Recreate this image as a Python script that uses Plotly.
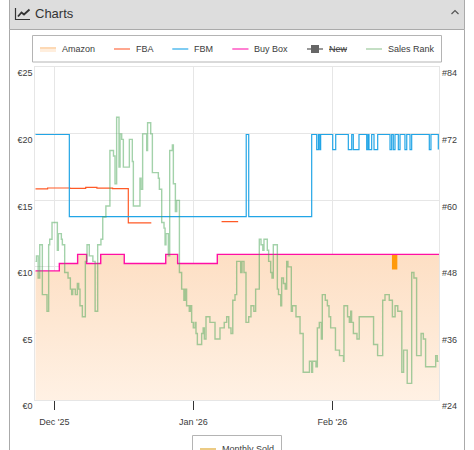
import pandas as pd
import plotly.graph_objects as go

W, H = 474, 450
START = pd.Timestamp("2025-12-01")

tick_days = [0, 31, 62]
tick_labels = ["Dec '25", "Jan '26", "Feb '26"]
price_ticks = [0, 5, 10, 15, 20, 25]
rank_ticks = [24, 36, 48, 60, 72, 84]

# Each series is a step line: the value holds from its day until the next one.
buybox_days = [-4.24, 1.12, 5.2, 7.2, 10.35, 15.6, 24.85, 27.5, 36.35, 85.86]
buybox_vals = [9.7, 10.26, 10.94, 10.26, 10.94, 10.26, 10.94, 10.26, 10.94, 10.94]
amazon_vals = list(buybox_vals)

fba_days = [-4.24, -1.5, 3.5, 7.0, 9.5, 13.0, 16.5, 21.5, 21.6, 37.3, 41.0]
fba_vals = [15.87, 15.93, 15.9, 15.98, 15.92, 15.88, 13.31, 13.35, None, 13.41, 13.41]

fbm_days = [-4.24, 3.35, 42.8, 43.36, 57.4, 58.52, 58.9, 59.19, 59.4, 62.09, 62.76,
            65.57, 66.33, 66.68, 67.95, 69.67, 69.96, 70.18, 70.78, 71.3, 72.12,
            74.87, 75.24, 75.6, 75.98, 76.72, 77.1, 78.2, 78.6, 79.33, 79.7,
            83.63, 84.0, 85.64]
fbm_vals = [19.95, 13.78, 19.95, 13.78, 19.95, 18.82, 19.95, 18.82, 19.95, 18.82, 19.95,
            18.82, 19.95, 18.82, 19.95, 18.82, 19.95, 18.82, 19.95, 18.82, 19.95,
            18.82, 19.95, 18.82, 19.95, 18.82, 19.95, 18.82, 19.95, 18.82, 19.95,
            18.82, 19.95, 18.82]

rank_days = [-4.24, -4.0, -3.6, -3.25, -2.67, -1.63, -1.26, -1.03, -0.51, 0.68, 0.9,
             1.57, 1.79, 2.31, 3.06, 3.58, 3.87, 4.1, 4.69, 5.14, 5.44, 5.73, 6.25,
             6.92, 7.3, 7.8, 8.6, 9.1, 9.67, 10.4, 10.8, 11.5, 12.4, 13.2, 13.54,
             13.9, 14.43, 14.66, 15.03, 15.4, 16.74, 17.4, 17.63, 19.1, 19.35, 19.7,
             20.6, 20.8, 21.5, 21.87, 23.2, 23.43, 23.95, 24.47, 24.7, 24.9, 25.44,
             25.73, 26.33, 26.55, 27.0, 27.3, 27.9, 28.4, 28.9, 29.2, 29.5, 30.1,
             30.4, 30.63, 31.0, 31.4, 31.6, 31.9, 32.86, 33.2, 33.46, 33.83, 34.7,
             35.84, 36.95, 37.9, 38.44, 38.9, 39.4, 39.8, 40.3, 40.67, 41.56, 41.86,
             42.3, 42.75, 43.35, 43.86, 44.5, 44.9, 45.72, 46.1, 46.5, 46.76, 47.5,
             47.8, 48.25, 48.55, 48.84, 49.74, 50.0, 50.5, 50.7, 51.1, 51.5, 51.82,
             52.1, 52.86, 53.1, 53.9, 54.8, 55.5, 56.9, 57.4, 57.6, 58.36, 58.66,
             59.1, 59.55, 59.77, 60.44, 60.9, 61.26, 61.63, 62.7, 63.6, 64.5, 64.6,
             65.4, 65.8, 66.1, 66.3, 66.7, 67.5, 68.0, 71.2, 72.1, 73.23, 73.75,
             74.7, 75.4, 76.0, 76.6, 77.5, 77.9, 78.7, 79.7, 80.2, 80.8, 81.8, 82.3,
             82.8, 85.05, 85.4, 85.7]
rank_vals = [49, 50, 46, 52, 43, 40, 52, 53, 56, 51, 54,
             53, 52, 47, 46, 44, 43, 44, 43, 45, 44, 41, 39,
             49, 52, 50, 49, 40, 52, 53, 57, 59, 69, 68, 63,
             75, 66, 72, 71, 66, 71, 67, 59, 64, 62, 72,
             69, 74, 72, 65, 64, 62, 56, 55, 52, 54, 50,
             69, 70, 63, 58, 60, 47, 44, 42, 44, 41, 40,
             41, 38, 37, 38, 36, 34, 36, 37, 35, 39, 38,
             35, 37, 38, 39, 37, 36, 42, 43, 49, 47, 49,
             47, 38, 39, 41, 40, 44, 53, 52, 51, 53, 51,
             49, 47, 46, 52, 44, 43, 41, 46, 45, 44, 49,
             48, 40, 41, 39, 36, 29, 31, 29, 31, 30, 37,
             38, 35, 43, 42, 41, 39, 37, 33, 32, 31, 41,
             39, 38, 40, 38, 36, 35, 39, 34, 32, 42, 43,
             42, 39, 41, 40, 29, 33, 27, 47, 46, 32, 36, 35,
             30, 32, 31, 31]

sold_days = [75.9, 75.9]
sold_vals = [9.8, 10.9]

GRID = "#e6e6e6"
TEXT = "#3c3c3c"
BORDER = "#b4b4b4"


def dates(days):
    return [START + pd.to_timedelta(d, unit="D") for d in days]


def px(x):
    return x / W


def py(y):
    return 1 - y / H


def path(points, close=False):
    body = " L".join(f"{px(x):.5f},{py(y):.5f}" for x, y in points)
    return "M" + body + (" Z" if close else "")


def frame_shape(**kw):
    return dict(xref="paper", yref="paper", layer="above", **kw)


fig = go.Figure()
fig.add_trace(go.Scatter(
    x=dates(buybox_days), y=amazon_vals, name="Amazon", mode="lines",
    line=dict(shape="hv", width=0), fill="tozeroy",
    fillgradient=dict(type="vertical",
                      colorscale=[[0, "#fff1e4"], [1, "#fddfc4"]]),
))
fig.add_trace(go.Scatter(
    x=dates(rank_days), y=rank_vals, name="Sales Rank", mode="lines", yaxis="y2",
    line=dict(shape="hv", width=1.4, color="rgba(72,165,85,0.5)"),
))
fig.add_trace(go.Scatter(
    x=dates(fba_days), y=fba_vals, name="FBA", mode="lines", connectgaps=False,
    line=dict(shape="hv", width=1.2, color="#ff5a26"),
))
fig.add_trace(go.Scatter(
    x=dates(fbm_days), y=fbm_vals, name="FBM", mode="lines",
    line=dict(shape="hv", width=1.2, color="#22a5e6"),
))
fig.add_trace(go.Scatter(
    x=dates(buybox_days), y=buybox_vals, name="Buy Box", mode="lines",
    line=dict(shape="hv", width=1.4, color="#ff0fa5"),
))
fig.add_trace(go.Scatter(
    x=dates(sold_days), y=sold_vals, name="Monthly Sold", mode="lines",
    line=dict(width=5.4, color="#ff9a0a"),
))

shapes = [
    # Panel header and outline
    frame_shape(type="rect", x0=px(9.5), x1=px(464.5), y0=py(29.5), y1=py(-2),
                fillcolor="#dddddd", line=dict(color="#aaaaaa", width=1)),
    frame_shape(type="line", x0=px(9.5), x1=px(9.5), y0=py(29.5), y1=py(451),
                line=dict(color="#aaaaaa", width=1)),
    frame_shape(type="line", x0=px(464.5), x1=px(464.5), y0=py(29.5), y1=py(451),
                line=dict(color="#aaaaaa", width=1)),
    # Header icon and collapse chevron
    frame_shape(type="path", path=path([(15.5, 8), (15.5, 19.5), (30, 19.5)]),
                line=dict(color="#333333", width=1.2)),
    frame_shape(type="path", path=path([(18, 16.5), (21.5, 12.5), (24, 14.5), (29.5, 9.5)]),
                line=dict(color="#333333", width=1.8)),
    frame_shape(type="path", path=path([(451.5, 14), (455, 10.5), (458.5, 14)]),
                line=dict(color="#555555", width=1.2)),
    # Legend frames
    frame_shape(type="rect", x0=px(32.5), x1=px(441.5), y0=py(62), y1=py(35.5),
                line=dict(color=BORDER, width=1)),
    frame_shape(type="rect", x0=px(192.5), x1=px(281.5), y0=py(452), y1=py(435.5),
                line=dict(color=BORDER, width=1)),
    # Legend swatches
    frame_shape(type="rect", x0=px(40), x1=px(56), y0=py(49), y1=py(47),
                fillcolor="#fdd9b5", line=dict(width=0)),
    frame_shape(type="rect", x0=px(40), x1=px(56), y0=py(52), y1=py(49),
                fillcolor="#ffeedd", line=dict(width=0)),
    frame_shape(type="line", x0=px(114), x1=px(130), y0=py(49), y1=py(49),
                line=dict(color="#ffa78f", width=2)),
    frame_shape(type="line", x0=px(172.3), x1=px(188.3), y0=py(49), y1=py(49),
                line=dict(color="#7fccf2", width=2)),
    frame_shape(type="line", x0=px(232.3), x1=px(248.5), y0=py(49), y1=py(49),
                line=dict(color="#ff80d2", width=2)),
    frame_shape(type="line", x0=px(307), x1=px(323), y0=py(49), y1=py(49),
                line=dict(color="#999999", width=2)),
    frame_shape(type="rect", x0=px(311), x1=px(319), y0=py(53), y1=py(45),
                fillcolor="#666666", line=dict(width=0)),
    frame_shape(type="line", x0=px(366), x1=px(382), y0=py(49), y1=py(49),
                line=dict(color="#c4dfc4", width=2)),
    frame_shape(type="rect", x0=px(200), x1=px(216), y0=py(450), y1=py(448),
                fillcolor="#eccb84", line=dict(width=0)),
]


def label(x, y, text, size=9, color=TEXT):
    return dict(x=px(x), y=py(y), xref="paper", yref="paper", text=text, showarrow=False,
                xanchor="left", yanchor="middle", align="left",
                font=dict(size=size, color=color), borderpad=0)


annotations = [
    label(34, 13.5, "Charts", size=13, color="#333333"),
    label(60.5, 49, "Amazon"),
    label(134.5, 49, "FBA"),
    label(193.2, 49, "FBM"),
    label(253.2, 49, "Buy Box"),
    label(327.5, 49, "<s>New</s>"),
    label(386.8, 49, "Sales Rank"),
    label(220.5, 449, "Monthly Sold"),
]

fig.update_layout(
    width=W, height=H, autosize=False, showlegend=False,
    margin=dict(l=0, r=0, t=0, b=0, pad=0, autoexpand=False),
    paper_bgcolor="white", plot_bgcolor="white",
    font=dict(family="Liberation Sans, Arial, sans-serif", size=9, color=TEXT),
    shapes=shapes, annotations=annotations,
    xaxis=dict(
        domain=[px(35.3), px(439.3)], type="date",
        range=[dates([-4.24])[0], dates([85.86])[0]],
        tickmode="array", tickvals=dates(tick_days), ticktext=tick_labels,
        ticks="outside", ticklen=9, tickwidth=1, tickcolor="#333333",
        ticklabelstandoff=4, showgrid=True, gridcolor=GRID, gridwidth=1,
        showline=True, linecolor=GRID, linewidth=1, mirror=True, zeroline=False,
    ),
    yaxis=dict(
        domain=[py(400), py(67.3)], range=[0, 25],
        tickmode="array", tickvals=price_ticks,
        ticktext=[f"€{v}" for v in price_ticks],
        ticklabelshift=6, showgrid=True, gridcolor=GRID, gridwidth=1,
        showline=True, linecolor=GRID, linewidth=1, zeroline=False,
    ),
    yaxis2=dict(
        domain=[py(400), py(67.3)], range=[24, 84], overlaying="y", side="right",
        tickmode="array", tickvals=rank_ticks,
        ticktext=[f"#{v}" for v in rank_ticks],
        ticklabelshift=6, showgrid=False,
        showline=True, linecolor=GRID, linewidth=1, zeroline=False,
    ),
)

fig.write_html("out.html", config=dict(displayModeBar=False))
